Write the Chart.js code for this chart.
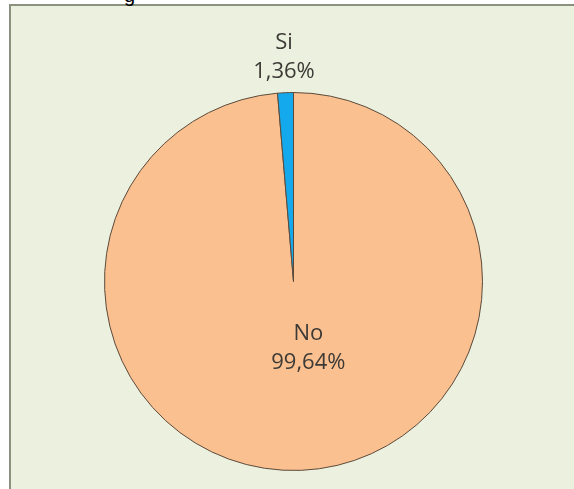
<!DOCTYPE html>
<html>
<head>
<meta charset="utf-8">
<script src="https://cdn.jsdelivr.net/npm/chart.js@4.4.0/dist/chart.umd.min.js"></script>
<style>
  html, body { margin: 0; padding: 0; background: #ffffff; overflow: hidden; }
  #frame {
    position: absolute; left: 9px; top: 4px; width: 580px; height: 500px;
    background: #EBF0DF; border-left: 2px solid #8A927F; border-top: 2px solid #8A927F;
  }
  #cut {
    position: absolute; left: 124px; top: -16px;
    font-family: "Liberation Sans", Arial, sans-serif; font-size: 20px; color: #000;
  }
  #pieChart { position: absolute; left: 0; top: 0; }
</style>
</head>
<body>
<div id="frame"></div>
<div id="cut">g</div>
<canvas id="pieChart" width="574" height="489"></canvas>
<script>
// Chart data
const categories = ['No', 'Si'];
const values = [99.64, 1.36];
const valueLabels = ['99,64%', '1,36%'];
const sliceColors = ['#FAC090', '#14A8EC'];

// Labels placed like the Excel data labels (radius factor along the slice middle)
const labelPlugin = {
    id: 'sliceLabels',
    afterDatasetsDraw(chart, args, opts) {
        const ctx = chart.ctx;
        const meta = chart.getDatasetMeta(0);
        ctx.save();
        ctx.font = '22px "Open Sans", sans-serif';
        ctx.fillStyle = '#3D3A36';
        ctx.textAlign = 'center';
        ctx.textBaseline = 'middle';
        meta.data.forEach((arc, i) => {
            const p = arc.getProps(['x', 'y', 'startAngle', 'endAngle', 'outerRadius'], true);
            const mid = (p.startAngle + p.endAngle) / 2;
            const r = p.outerRadius * opts.radius[i];
            const cx = p.x + Math.cos(mid) * r + opts.dx[i];
            const cy = p.y + Math.sin(mid) * r;
            ctx.fillText(categories[i], cx, cy - 14.5);
            ctx.fillText(valueLabels[i], cx, cy + 14.5);
        });
        ctx.restore();
    }
};

const ctx = document.getElementById('pieChart').getContext('2d');
const pieChart = new Chart(ctx, {
    type: 'pie',
    data: {
        labels: categories,
        datasets: [{
            data: values,
            backgroundColor: sliceColors,
            borderColor: '#5B4A3A',
            borderWidth: 1,
            hoverOffset: 0
        }]
    },
    options: {
        responsive: false,
        animation: false,
        layout: {
            padding: { left: 104, right: 91, top: 92, bottom: 18 }
        },
        plugins: {
            legend: { display: false },
            tooltip: { enabled: false },
            sliceLabels: { radius: [0.355, 1.19], dx: [12, 0] }
        }
    },
    plugins: [labelPlugin]
});
</script>
</body>
</html>
